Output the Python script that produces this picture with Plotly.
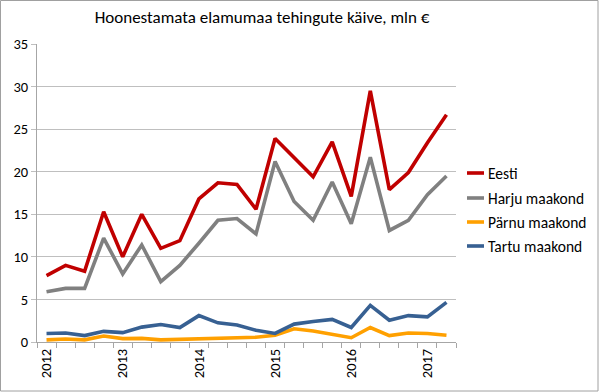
import plotly.graph_objects as go

title = "Hoonestamata elamumaa tehingute käive, mln €"
years = ["2012", "2013", "2014", "2015", "2016", "2017"]
quarters = ["I", "II", "III", "IV"]
categories = [f"{y} {q}" for y in years for q in quarters][:22]

series_names = ["Eesti", "Harju maakond", "Pärnu maakond", "Tartu maakond"]
eesti = [7.8, 9.0, 8.3, 15.3, 10.0, 15.0, 11.0, 11.9, 16.8, 18.7, 18.5, 15.6,
         23.9, 21.7, 19.4, 23.5, 17.1, 29.5, 17.9, 19.9, 23.4, 26.7]
harju = [5.9, 6.3, 6.3, 12.2, 8.0, 11.4, 7.1, 9.0, 11.6, 14.3, 14.5, 12.7,
         21.2, 16.5, 14.3, 18.8, 13.9, 21.7, 13.1, 14.3, 17.3, 19.5]
parnu = [0.25, 0.35, 0.25, 0.7, 0.4, 0.43, 0.25, 0.3, 0.35, 0.47, 0.55, 0.55,
         0.8, 1.55, 1.3, 0.9, 0.5, 1.7, 0.75, 1.05, 1.0, 0.8]
tartu = [1.0, 1.05, 0.75, 1.25, 1.1, 1.75, 2.05, 1.7, 3.1, 2.25, 2.0, 1.37,
         1.0, 2.1, 2.4, 2.65, 1.7, 4.3, 2.55, 3.1, 2.95, 4.65]
colors = ["#C00000", "#808080", "#FFA000", "#376092"]

values = [eesti, harju, parnu, tartu]
x = list(range(len(categories)))
font_family = "Carlito, Lato, sans-serif"

fig = go.Figure()
for name, vals, col in zip(series_names, values, colors):
    fig.add_trace(go.Scatter(x=x, y=vals, mode="lines", name=name,
                             line=dict(color=col, width=3.6),
                             text=categories, hoverinfo="text+y"))

year_ticks = [i for i, c in enumerate(categories) if c.endswith(" I")]
year_labels = [categories[i].split()[0] for i in year_ticks]

fig.update_layout(
    width=600, height=392,
    margin=dict(l=37, r=144, t=44, b=50),
    paper_bgcolor="white", plot_bgcolor="white",
    showlegend=False,
    font=dict(family=font_family, size=14.5, color="#000000"),
    title=dict(text=title, x=262 / 600, xanchor="center", y=1 - 17 / 392,
               yanchor="middle", font=dict(size=17, family=font_family)),
    xaxis=dict(range=[-0.5, len(categories) - 0.5], tickmode="array",
               tickvals=year_ticks, ticktext=year_labels, tickangle=-90,
               ticks="", showgrid=False, zeroline=False,
               showline=True, linecolor="#A6A6A6", linewidth=1,
               minor=dict(tickmode="linear", tick0=-0.5, dtick=1, ticks="outside",
                          ticklen=5, tickcolor="#A6A6A6", showgrid=False),
               tickfont=dict(size=14.5)),
    yaxis=dict(range=[0, 35], dtick=5, ticks="outside", ticklen=5,
               tickcolor="#BFBFBF", showgrid=True, gridcolor="#BFBFBF",
               gridwidth=1, zeroline=False, showline=True,
               linecolor="#A6A6A6", linewidth=1, tickfont=dict(size=14.5)),
)

# chart border
fig.add_shape(type="rect", xref="paper", yref="paper",
              x0=-36.5 / 419, x1=(598 - 37) / 419,
              y0=-49 / 298, y1=(44 - 0.5) / 298 + 1,
              line=dict(color="#A0A0A0", width=1), layer="below")

# manual legend (short line samples like the original)
leg_y = [173, 198, 222, 246]
for name, col, py in zip(series_names, colors, leg_y):
    yp = 1 - (py - 44) / 298
    fig.add_shape(type="line", xref="paper", yref="paper",
                  x0=(467 - 37) / 419, x1=(484 - 37) / 419, y0=yp, y1=yp,
                  line=dict(color=col, width=3.6))
    fig.add_annotation(text=name, xref="paper", yref="paper",
                       x=(486 - 37) / 419, y=yp, xanchor="left", yanchor="middle",
                       showarrow=False, font=dict(size=15.5, family=font_family))

fig.write_html("out.html", config={"displayModeBar": False},
               post_script="document.body.style.margin='0';document.body.style.overflow='hidden';")
